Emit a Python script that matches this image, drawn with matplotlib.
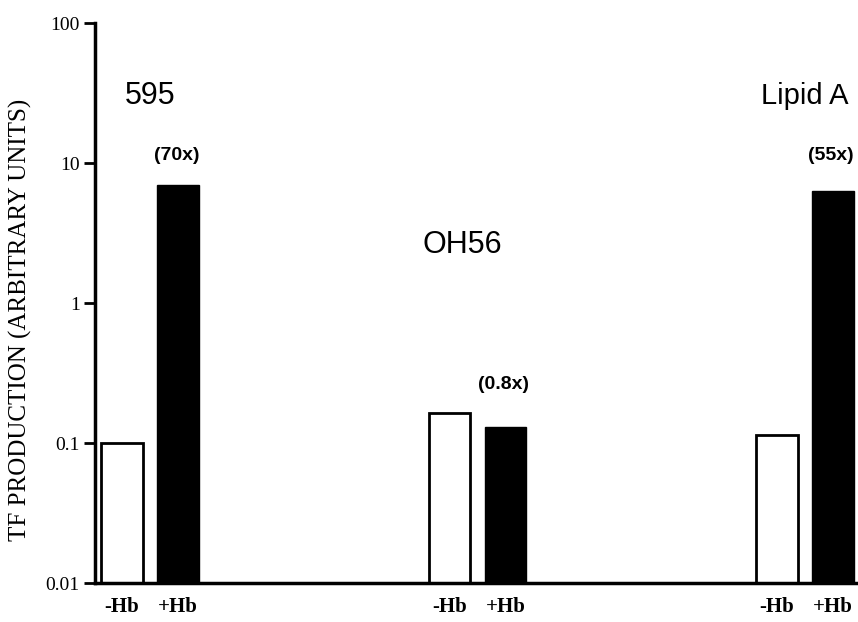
import matplotlib
matplotlib.use("Agg")
import matplotlib.pyplot as plt
import numpy as np

# TF production with and without haemoglobin for each stimulus
groups = ["595", "OH56", "Lipid A"]
minus_hb = [0.10, 0.164, 0.115]
plus_hb = [7.0, 0.131, 6.3]
fold_labels = ["(70x)", "(0.8x)", "(55x)"]
cond_labels = ["-Hb", "+Hb"]

serif = "Liberation Serif"
sans = "Liberation Sans"

fig = plt.figure(figsize=(8.58, 6.22), dpi=100)
ax = fig.add_axes([0.1107, 0.0627, 0.8893, 0.9])

x = np.arange(len(groups))
w = 0.128
off = 0.0855

ax.bar(x - off, minus_hb, w, color="white", edgecolor="black", linewidth=2)
ax.bar(x + off, plus_hb, w, color="black", edgecolor="black", linewidth=1)

ax.set_yscale("log")
ax.set_ylim(0.01, 100)
ax.set_xlim(-0.168, 2.162)
ax.set_yticks([0.01, 0.1, 1, 10, 100])
ax.set_yticklabels(["0.01", "0.1", "1", "10", "100"], fontfamily=serif, fontsize=14)
ax.minorticks_off()
ax.tick_params(axis="y", direction="out", length=8, width=2, pad=3)

xt = np.concatenate([x - off, x + off])
ax.set_xticks(np.sort(xt))
ax.set_xticklabels(cond_labels * len(groups), fontfamily=serif, fontsize=15, fontweight="bold")
ax.tick_params(axis="x", length=0, pad=10)

for s in ["top", "right"]:
    ax.spines[s].set_visible(False)
for s in ["left", "bottom"]:
    ax.spines[s].set_linewidth(2.5)

ax.set_ylabel("TF PRODUCTION (ARBITRARY UNITS)", fontfamily=serif, fontsize=18)
ax.yaxis.set_label_coords(-0.082, 0.47)

# group names
ax.text(x[0], 30, groups[0], ha="center", va="center", fontfamily=sans, fontsize=22)
ax.text(x[1] - 0.046, 2.6, groups[1], ha="center", va="center", fontfamily=sans, fontsize=22)
ax.text(x[2], 30, groups[2], ha="center", va="center", fontfamily=sans, fontsize=21)

# fold change above the +Hb bars
fold_y = [11.4, 0.26, 11.4]
for i in range(len(groups)):
    ax.text(x[i] + off - 0.005, fold_y[i], fold_labels[i], ha="center", va="center",
            fontfamily=sans, fontsize=14, fontweight="bold")

fig.savefig("out.png", dpi=100)
